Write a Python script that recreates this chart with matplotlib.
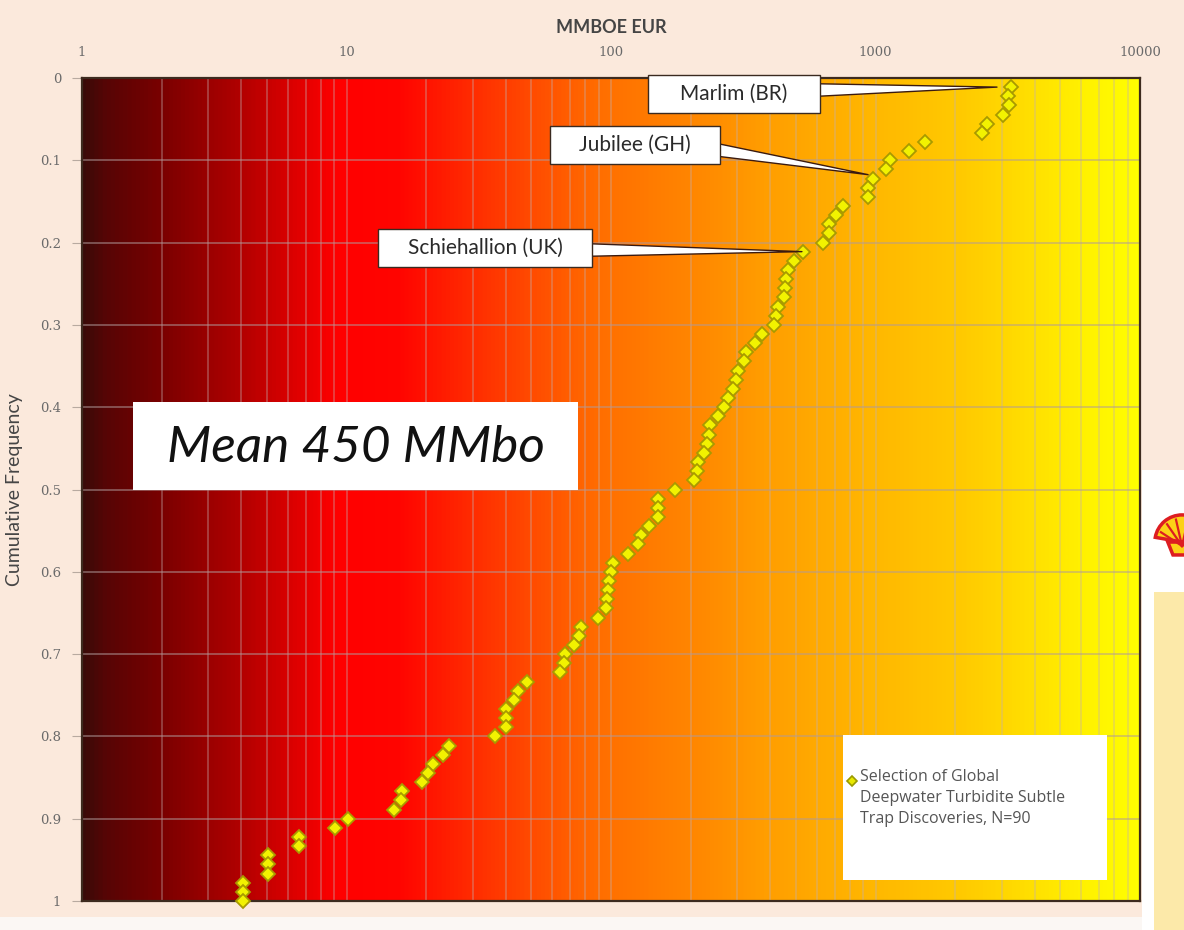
import numpy as np
import matplotlib
matplotlib.use('Agg')
import matplotlib.pyplot as plt
from matplotlib.colors import LinearSegmentedColormap
from matplotlib.patches import Rectangle, Wedge, Polygon
from matplotlib.ticker import FixedLocator, LogLocator, NullFormatter

eur_mmboe = [3250, 3170, 3200, 3035, 2640, 2530,
             1540, 1340, 1135, 1096, 979, 937, 937,
             754, 709, 667, 667, 633,
             532, 492, 467, 459, 455, 451, 428, 421, 413,
             372, 350, 324, 318, 302, 297, 289, 277, 267, 254,
             237, 235, 231, 225, 213, 211, 206,
             175, 151, 151, 151, 139, 130, 126, 116,
             102, 100, 98, 97.5, 96.5, 95.7, 89.3,
             77.1, 75.7, 72.5, 67.0, 66.4, 64.1,
             48.1, 44.5, 43.0, 40.1, 40.1, 40.1, 36.4,
             24.4, 23.2, 21.2, 20.3, 19.3,
             16.2, 16.1, 15.1,
             10.1, 9.05,
             6.61, 6.61,
             5.05, 5.05, 5.05,
             4.06, 4.06, 4.06]

# cumulative frequency = rank / N of the sample
n_fields = len(eur_mmboe)
cum_freq = np.arange(1, n_fields + 1) / n_fields

x_ticks = [1, 10, 100, 1000, 10000]
x_tick_labels = ['1', '10', '100', '1000', '10000']
y_ticks = [0, 0.1, 0.2, 0.3, 0.4, 0.5, 0.6, 0.7, 0.8, 0.9, 1]
y_tick_labels = ['0', '0.1', '0.2', '0.3', '0.4', '0.5', '0.6', '0.7', '0.8', '0.9', '1']

# callouts: label and the discovery it points at
callout_labels = ['Marlim (BR)', 'Jubilee (GH)', 'Schiehallion (UK)']
callout_points = [(2950, 0.011), (960, 0.118), (540, 0.211)]
# box extents in axes fraction (x0, y0, x1, y1) and leader start
callout_boxes = [(0.535, 0.9575, 0.6975, 1.0036),
                 (0.4423, 0.8955, 0.603, 0.9417),
                 (0.2798, 0.7704, 0.482, 0.8165)]
callout_starts = [(0.6955, 0.9854), (0.601, 0.9125), (0.480, 0.791)]

mean_text = 'Mean 450 MMbo'
legend_text = 'Selection of Global\nDeepwater Turbidite Subtle\nTrap Discoveries, N=90'

W, H = 1184, 930
fig = plt.figure(figsize=(W / 100, H / 100), dpi=100)
fig.patch.set_facecolor('#fbe9dc')

# white / yellow panels on the right and bottom edge of the slide
fig.patches.append(Rectangle((0, 0), 1, 13 / H, transform=fig.transFigure,
                             facecolor='#fbf7f4', edgecolor='none', zorder=0))
fig.patches.append(Rectangle((1142 / W, 0), 1, (H - 470) / H, transform=fig.transFigure,
                             facecolor='white', edgecolor='none', zorder=0))
fig.patches.append(Rectangle((1154 / W, 0), 1, (H - 592) / H, transform=fig.transFigure,
                             facecolor='#fce9a9', edgecolor='none', zorder=0))

pos = [82 / W, (H - 901) / H, 1058 / W, 823 / H]

# gradient background in its own axes behind the chart
bg = fig.add_axes(pos, zorder=1)
grad_cmap = LinearSegmentedColormap.from_list('eur', [
    (0.0, '#3a0a08'), (0.02, '#560505'), (0.074, '#7a0000'), (0.147, '#b00000'),
    (0.24, '#ff0000'), (0.30, '#ff0500'), (0.357, '#ff2500'), (0.414, '#ff4500'),
    (0.49, '#ff6e00'), (0.584, '#ff8800'), (0.647, '#ff9e00'), (0.742, '#ffb600'),
    (0.836, '#ffcb00'), (0.90, '#ffe000'), (0.95, '#fff200'), (1.0, '#ffff00')])
bg.imshow(np.linspace(0, 1, 1024)[None, :], cmap=grad_cmap, aspect='auto',
          extent=[0, 1, 0, 1])
bg.axis('off')

ax = fig.add_axes(pos, zorder=2)
ax.patch.set_alpha(0)
ax.set_xscale('log')
ax.set_xlim(1, 10000)
ax.set_ylim(1, 0)

ax.xaxis.set_major_locator(FixedLocator(x_ticks))
ax.set_xticklabels(x_tick_labels)
ax.xaxis.set_minor_locator(LogLocator(base=10, subs=np.arange(2, 10)))
ax.xaxis.set_minor_formatter(NullFormatter())
ax.xaxis.tick_top()
ax.xaxis.set_label_position('top')
ax.tick_params(axis='x', which='both', length=0, pad=14, labelsize=9.5,
               labelcolor='#6a6a6a')
ax.set_yticks(y_ticks)
ax.set_yticklabels(y_tick_labels)
ax.tick_params(axis='y', length=7, color='#b8aaa0', pad=8, labelsize=9.5,
               labelcolor='#6a6a6a')
for lab in ax.get_xticklabels() + ax.get_yticklabels():
    lab.set_family('DejaVu Serif')

ax.grid(True, axis='x', which='both', color='#c4b0b0', alpha=0.45, lw=1.1)
ax.grid(True, axis='y', which='major', color='#b09a9a', alpha=0.55, lw=1.3)
ax.set_axisbelow(True)
for s in ax.spines.values():
    s.set_color('#3d2b1f')
    s.set_linewidth(1.6)

ax.set_xlabel('MMBOE EUR', family='Lato', weight='bold', fontsize=13,
              color='#454545', labelpad=9)
ax.set_ylabel('Cumulative Frequency', family='Lato', fontsize=14,
              color='#454545', labelpad=12)

ax.plot(eur_mmboe, cum_freq, ls='none', marker='D', ms=7.5, mfc='#f2f200',
        mec='#a89a00', mew=1.3, zorder=5, clip_on=False)

# labelled callouts: white box plus a wedge leader to the point
for lab, pt, box, st in zip(callout_labels, callout_points, callout_boxes, callout_starts):
    x0, y0, x1, y1 = box
    ax.add_patch(Rectangle((x0, y0), x1 - x0, y1 - y0, transform=ax.transAxes,
                           facecolor='white', edgecolor='#3a2a20', lw=1,
                           zorder=7, clip_on=False))
    ax.text((x0 + x1) / 2, (y0 + y1) / 2, lab, transform=ax.transAxes,
            ha='center', va='center', family='Lato', fontsize=15,
            color='#2a2a2a', zorder=8)
    ax.annotate('', xy=pt, xycoords='data', xytext=st, textcoords='axes fraction',
                zorder=6,
                arrowprops=dict(arrowstyle='wedge,tail_width=0.9,shrink_factor=0.5',
                                fc='white', ec='#3a1a10', lw=1, shrinkA=0, shrinkB=2))

# mean box
ax.add_patch(Rectangle((0.048, 0.499), 0.421, 0.107, transform=ax.transAxes,
                       facecolor='white', edgecolor='none', zorder=6))
ax.text(0.2585, 0.551, mean_text, transform=ax.transAxes, ha='center', va='center',
        family='Lato', style='italic', fontsize=37, color='#111111', zorder=7)

# legend box
ax.add_patch(Rectangle((0.719, 0.0255), 0.25, 0.176, transform=ax.transAxes,
                       facecolor='white', edgecolor='none', zorder=6))
ax.plot([0.7278], [0.1458], marker='D', ms=5, mfc='#e8e800', mec='#9a9a00', mew=1.2,
        transform=ax.transAxes, zorder=7)
ax.text(0.7353, 0.1598, legend_text, transform=ax.transAxes, ha='left', va='top',
        family='Open Sans', fontsize=11.5, color='#555555', linespacing=1.38,
        zorder=7)

# shell logo, cut off at the slide edge
lg = fig.add_axes([1152 / W, (H - 564) / H, 60 / W, 62 / H], zorder=5)
lg.set_xlim(-1.15, 1.15)
lg.set_ylim(-1.2, 1.2)
lg.set_aspect('equal')
lg.axis('off')
lg.add_patch(Wedge((0, -0.35), 1.05, 10, 170, facecolor='#fcd116',
                   edgecolor='#dd1d21', lw=2.5))
lg.add_patch(Polygon([(-0.55, -0.35), (0.55, -0.35), (0.35, -0.85), (-0.35, -0.85)],
                     closed=True, facecolor='#fcd116', edgecolor='#dd1d21', lw=2.5))
for ang in np.radians([25, 50, 75, 105, 130, 155]):
    lg.plot([0, 0.9 * np.cos(ang)], [-0.5, -0.35 + 0.9 * np.sin(ang)],
            color='#dd1d21', lw=1.6)

fig.savefig('out.png', dpi=100, facecolor=fig.get_facecolor())
